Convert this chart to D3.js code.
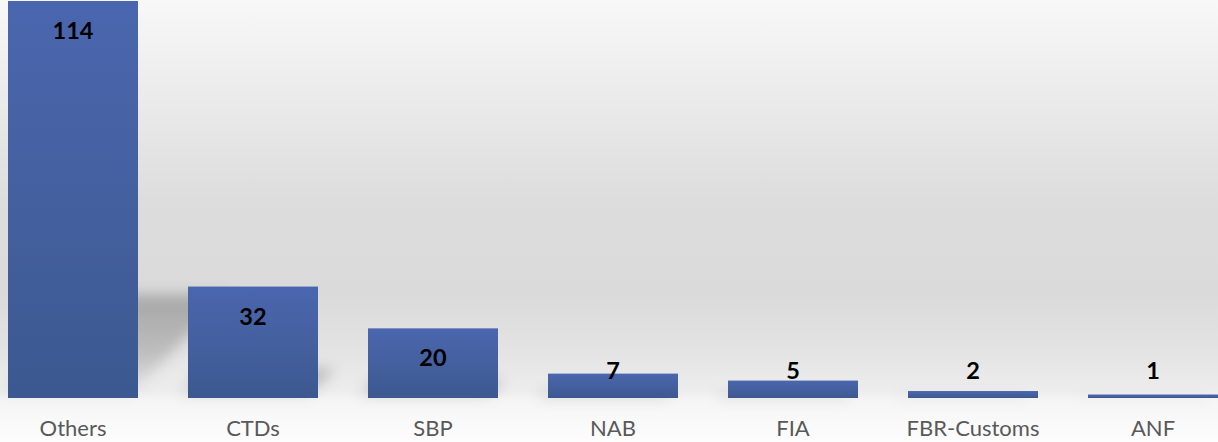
<!DOCTYPE html>
<html>
<head>
<meta charset="utf-8">
<script src="https://cdn.jsdelivr.net/npm/d3@7"></script>
<style>
  html, body { margin: 0; padding: 0; background: #ffffff; }
  svg { display: block; }
</style>
</head>
<body>
<div id="chart"></div>
<script>
// ---- data ----
const categories = ["Others", "CTDs", "SBP", "NAB", "FIA", "FBR-Customs", "ANF"];
const values = [114, 32, 20, 7, 5, 2, 1];

// ---- layout ----
const W = 1218, H = 442;
const baseY = 398;

const svg = d3.select("#chart").append("svg")
  .attr("width", W).attr("height", H);

const defs = svg.append("defs");

// background: wall + floor gradient
const bg = defs.append("linearGradient").attr("id", "bgGrad")
  .attr("x1", 0).attr("y1", 0).attr("x2", 0).attr("y2", 1);
[[0, "#f8f8f8"], [0.45, "#dddddd"], [0.66, "#dadada"], [0.79, "#e3e3e3"],
 [0.885, "#ededed"], [0.905, "#f5f5f5"], [1, "#fdfdfd"]]
  .forEach(([o, c]) => bg.append("stop").attr("offset", o).attr("stop-color", c));

// bar gradient
const bar = defs.append("linearGradient").attr("id", "barGrad")
  .attr("x1", 0).attr("y1", 0).attr("x2", 0).attr("y2", 1);
bar.append("stop").attr("offset", 0).attr("stop-color", "#4a66ae");
bar.append("stop").attr("offset", 0.5).attr("stop-color", "#45609f");
bar.append("stop").attr("offset", 1).attr("stop-color", "#3c5890");

// shadow fill gradient: stronger at far (top) end, fading to the floor
const shg = defs.append("linearGradient").attr("id", "shGrad")
  .attr("x1", 0).attr("y1", 0).attr("x2", 0).attr("y2", 1);
shg.append("stop").attr("offset", 0).attr("stop-color", "#000").attr("stop-opacity", 0.24);
shg.append("stop").attr("offset", 0.55).attr("stop-color", "#000").attr("stop-opacity", 0.17);
shg.append("stop").attr("offset", 1).attr("stop-color", "#000").attr("stop-opacity", 0.02);

// shadow blur
const f = defs.append("filter").attr("id", "blur")
  .attr("x", "-50%").attr("y", "-50%").attr("width", "200%").attr("height", "200%");
f.append("feGaussianBlur").attr("stdDeviation", 7);

svg.append("rect").attr("width", W).attr("height", H).attr("fill", "url(#bgGrad)");

const x = d3.scaleBand()
  .domain(categories)
  .range([-17, 1243])
  .paddingInner(50 / 180)
  .paddingOuter(25 / 180);

const y = d3.scaleLinear().domain([0, 114]).range([baseY, 1]);

const data = categories.map((c, i) => ({ cat: c, val: values[i] }));

// perspective shadows
svg.append("g").attr("filter", "url(#blur)")
  .selectAll("path").data(data).join("path")
  .attr("d", d => {
    const h = y(0) - y(d.val);
    const sh = h * 0.26;
    const off = -12;
    const x0 = x(d.cat) + off, x1 = x(d.cat) + x.bandwidth() + off;
    return `M${x0},${baseY} L${x1},${baseY} L${x1 + sh},${baseY - sh} L${x0 + sh},${baseY - sh} Z`;
  })
  .attr("fill", "url(#shGrad)");

// bars
svg.append("g").selectAll("rect").data(data).join("rect")
  .attr("x", d => x(d.cat))
  .attr("y", d => y(d.val))
  .attr("width", x.bandwidth())
  .attr("height", d => y(0) - y(d.val))
  .attr("fill", "url(#barGrad)");

// value labels
svg.append("g").selectAll("text").data(data).join("text")
  .attr("x", d => x(d.cat) + x.bandwidth() / 2)
  .attr("y", d => Math.min(y(d.val) + 38, 378.5))
  .attr("text-anchor", "middle")
  .attr("font-family", "Lato, 'Open Sans', sans-serif")
  .attr("font-weight", "bold")
  .attr("font-size", 23.5)
  .attr("fill", "#000")
  .text(d => d.val);

// category axis (no line)
const axis = d3.axisBottom(x).tickSize(0).tickPadding(0);
const ax = svg.append("g").attr("transform", `translate(0,${baseY})`).call(axis);
ax.select(".domain").remove();
ax.selectAll("text")
  .attr("dy", null)
  .attr("y", 37.5)
  .attr("font-family", "Lato, 'Open Sans', sans-serif")
  .attr("font-size", 22)
  .attr("fill", "#595959");
</script>
</body>
</html>
